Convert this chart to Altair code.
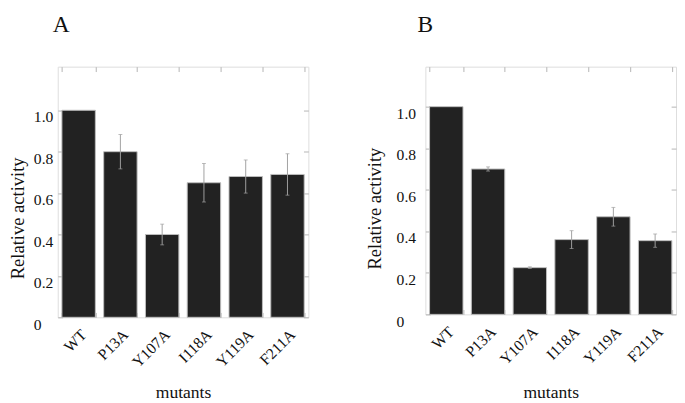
import altair as alt
import pandas as pd

mutants = ["WT", "P13A", "Y107A", "I118A", "Y119A", "F211A"]
a_values = [1.0, 0.80, 0.40, 0.65, 0.68, 0.69]
a_errors = [0.0, 0.083, 0.05, 0.093, 0.08, 0.10]
b_values = [1.0, 0.70, 0.225, 0.36, 0.47, 0.355]
b_errors = [0.0, 0.01, 0.004, 0.043, 0.045, 0.032]
y_ticks = [0, 0.2, 0.4, 0.6, 0.8, 1.0]

FONT = "Liberation Serif, Times New Roman, Times, serif"
GRAY = "#b4b4b4"


def make_df(values, errors):
    df = pd.DataFrame({"mutant": mutants, "value": values, "err": errors})
    df["lo"] = df["value"] - df["err"]
    df["hi"] = df["value"] + df["err"]
    return df


def panel(values, errors, letter, height, ytop, title_offset, title_dx, label_pad,
          ytitle_x, ytitle_y, xtitle_y):
    df = make_df(values, errors)
    base = alt.Chart(df)
    xscale = alt.Scale(paddingInner=0.2, paddingOuter=0.1)
    yscale = alt.Scale(domain=[0, ytop], nice=False, zero=True)

    bars = base.mark_bar(fill="#222222", stroke="#bdbdbd", strokeWidth=1).encode(
        x=alt.X("mutant:N", sort=mutants, scale=xscale,
                axis=alt.Axis(orient="bottom", offset=-5, tickSize=5, tickBand="extent",
                              tickColor=GRAY, domain=False, labelAngle=-45,
                              labelAlign="right", labelBaseline="middle",
                              labelPadding=15, labelOffset=5, labelFont=FONT,
                              labelFontSize=16, labelColor="#111",
                              title="mutants", titleFont=FONT, titleFontSize=18,
                              titleFontWeight="normal", titleColor="#111",
                              titleBaseline="alphabetic", titleY=xtitle_y)),
        y=alt.Y("value:Q", scale=yscale,
                axis=alt.Axis(orient="left", offset=-5, tickSize=5, values=y_ticks,
                              tickColor=GRAY, domain=False, grid=False,
                              labelExpr="datum.value == 0 ? '0' : format(datum.value, '.1f')",
                              labelAlign="left", labelBaseline="middle",
                              labelPadding=label_pad, labelOffset=7, labelFont=FONT,
                              labelFontSize=16, labelColor="#111",
                              title="Relative activity", titleFont=FONT, titleFontSize=19,
                              titleFontWeight="normal", titleColor="#111",
                              titleAngle=-90, titleAlign="center",
                              titleBaseline="alphabetic", titleX=ytitle_x, titleY=ytitle_y)),
    )

    edf = base.transform_filter("datum.err > 0")
    rules = edf.mark_rule(color="#a0a0a0", strokeWidth=1).encode(
        x=alt.X("mutant:N", sort=mutants,
                axis=alt.Axis(orient="top", offset=-5, tickSize=5, tickBand="extent",
                              tickColor=GRAY, domain=False, labels=False, title=None)),
        y=alt.Y("lo:Q",
                axis=alt.Axis(orient="right", offset=-5, tickSize=5, values=y_ticks,
                              tickColor=GRAY, domain=False, labels=False, grid=False,
                              title=None)),
        y2="hi:Q",
    )
    cap_lo = edf.mark_tick(color="#a0a0a0", size=4, thickness=1).encode(
        x=alt.X("mutant:N", sort=mutants, axis=None),
        y=alt.Y("lo:Q", axis=None),
    )
    cap_hi = edf.mark_tick(color="#a0a0a0", size=4, thickness=1).encode(
        x=alt.X("mutant:N", sort=mutants, axis=None),
        y=alt.Y("hi:Q", axis=None),
    )

    return alt.layer(bars, rules, cap_lo, cap_hi).resolve_axis(
        x="independent", y="independent"
    ).properties(
        width=257, height=height,
        title=alt.TitleParams(letter, anchor="start", frame="group", fontSize=24,
                              font=FONT, fontWeight="normal", color="#111",
                              baseline="alphabetic", offset=title_offset, dx=title_dx),
    )


pa = panel(a_values, a_errors, "A", 257, 1.2106, 11, -5, 25, -40, 155, 87)
pb = panel(b_values, b_errors, "B", 254, 1.1925, 11, -8, 30, -51, 145, 90)

chart = alt.hconcat(pa, pb, spacing=57).properties(
    padding={"left": 0, "top": 0, "right": 0, "bottom": 8}
).configure_view(
    stroke=GRAY, strokeWidth=1
).configure_axis(
    labelFont=FONT, titleFont=FONT
).configure_title(
    font=FONT
).configure(background="white")

chart.save("out.html", embed_options={"renderer": "svg", "actions": False})
